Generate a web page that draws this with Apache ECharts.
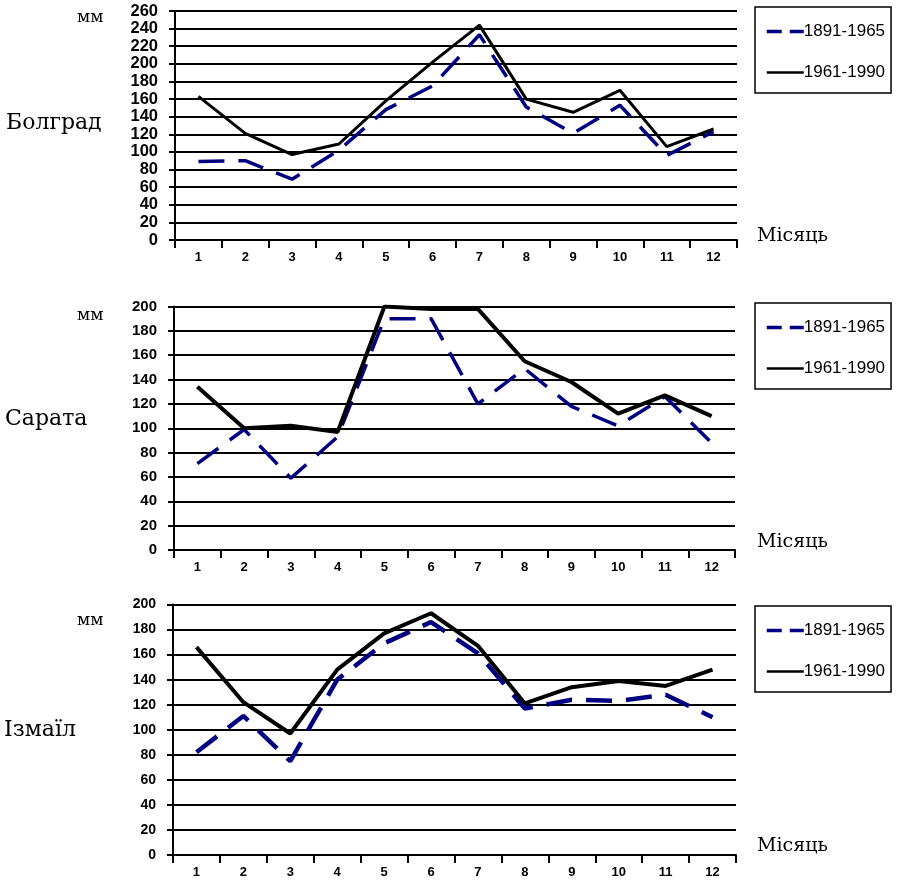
<!DOCTYPE html>
<html>
<head>
<meta charset="utf-8">
<script src="https://cdn.jsdelivr.net/npm/echarts@6/dist/echarts.min.js"></script>
<style>html,body{margin:0;padding:0;background:#fff}#c{width:898px;height:885px}</style>
</head>
<body>
<div id="c"></div>
<script>
const months = ['1','2','3','4','5','6','7','8','9','10','11','12'];
const seriesNames = ['1891-1965', '1961-1990'];
const stations = ['Болград', 'Сарата', 'Ізмаїл'];
const unitLabel = 'мм';
const xLabel = 'Місяць';

const bolgradOld = [89, 90, 69, 102, 148, 175, 233, 151, 121, 153, 96, 123];
const bolgradNew = [163, 121, 97, 109, 158, 202, 244, 160, 145, 170, 106, 126];
const saratOld = [71, 99, 59, 93, 190, 190, 120, 149, 118, 102, 126, 88];
const saratNew = [134, 100, 102, 97, 200, 198, 198, 155, 138, 112, 127, 110];
const izmailOld = [82, 111, 75, 140, 169, 186, 161, 117, 124, 123, 128, 110];
const izmailNew = [166, 122, 97, 148, 177, 193, 167, 121, 134, 139, 135, 148];

const yMax = [260, 200, 200];
const yInterval = 20;

const grids = [
  {left: 175, right: 161, top: 11, height: 229},
  {left: 174, right: 163, top: 306.5, height: 243.5},
  {left: 173, right: 162, top: 604.5, height: 250.5}
];
const yFont = [16.5, 15, 14];
const oldWidth = [3.5, 3.5, 4.5];
const newWidth = [3, 4, 4];
const legendTops = [7, 303, 606];
const data = [[bolgradOld, bolgradNew], [saratOld, saratNew], [izmailOld, izmailNew]];

const xAxes = [], yAxes = [], series = [], legends = [], graphics = [];
grids.forEach((g, i) => {
  xAxes.push({
    type: 'category', gridIndex: i, data: months, boundaryGap: true,
    axisLine: {lineStyle: {color: '#000', width: 2}},
    axisTick: {show: true, length: 8, inside: false, lineStyle: {color: '#000', width: 2}},
    axisLabel: {fontFamily: 'Liberation Sans, Arial', fontWeight: 'bold', fontSize: 13, color: '#000', margin: 11},
    splitLine: {show: false}
  });
  yAxes.push({
    type: 'value', gridIndex: i, min: 0, max: yMax[i], interval: yInterval,
    axisLine: {show: true, lineStyle: {color: '#000', width: 2}},
    axisTick: {show: true, length: 6, lineStyle: {color: '#000', width: 2}},
    axisLabel: {fontFamily: 'Liberation Sans, Arial', fontWeight: 'bold', fontSize: yFont[i], color: '#000', margin: 17,
      showMinLabel: true, showMaxLabel: true, hideOverlap: false, lineHeight: 12},
    splitLine: {show: true, lineStyle: {color: '#000', width: 2}}
  });
  series.push({
    name: seriesNames[0], type: 'line', xAxisIndex: i, yAxisIndex: i,
    data: data[i][0], symbol: 'none', showSymbol: false, z: 3,
    lineStyle: {color: '#000080', width: oldWidth[i], type: [26, 14]},
    itemStyle: {color: '#000080'}
  });
  series.push({
    name: seriesNames[1], type: 'line', xAxisIndex: i, yAxisIndex: i,
    data: data[i][1], symbol: 'none', showSymbol: false, z: 4,
    lineStyle: {color: '#000', width: newWidth[i], type: 'solid'},
    itemStyle: {color: '#000'}
  });
  legends.push({
    left: 755, top: legendTops[i], orient: 'vertical',
    itemWidth: 37, itemHeight: 14, itemGap: 24,
    padding: [16, 6, 12, 10],
    borderColor: '#000', borderWidth: 1.5, backgroundColor: '#fff',
    selectedMode: false,
    textStyle: {fontFamily: 'Liberation Sans, Arial', fontSize: 17, color: '#000', padding: [0, 0, 0, -5]},
    data: [
      {name: seriesNames[0], itemStyle: {opacity: 0}, lineStyle: {type: [15, 8], width: 3.5, color: '#000080', opacity: 1}},
      {name: seriesNames[1], itemStyle: {opacity: 0}, lineStyle: {type: 'solid', width: 2.5, color: '#000', opacity: 1}}
    ]
  });
});

const stationY = [131, 427, 738];
const stationX = [6, 5, 4];
const unitY = [18, 316, 621];
const xLabelY = [243, 549, 853];
stations.forEach((s, i) => {
  graphics.push({type: 'text', left: stationX[i], top: stationY[i] - 19,
    style: {text: s, fontFamily: 'DejaVu Serif, serif', fontSize: 22, fill: '#000'}});
  graphics.push({type: 'text', left: 77, top: unitY[i] - 9,
    style: {text: unitLabel, fontFamily: 'DejaVu Serif, serif', fontSize: 17, fill: '#000'}});
  graphics.push({type: 'text', left: 757, top: xLabelY[i] - 16,
    style: {text: xLabel, fontFamily: 'DejaVu Serif, serif', fontSize: 19, fill: '#000'}});
});

const chart = echarts.init(document.getElementById('c'), null, {renderer: 'canvas'});
chart.setOption({
  animation: false,
  backgroundColor: '#fff',
  grid: grids,
  xAxis: xAxes,
  yAxis: yAxes,
  legend: legends,
  series: series,
  graphic: graphics
});
</script>
</body>
</html>
